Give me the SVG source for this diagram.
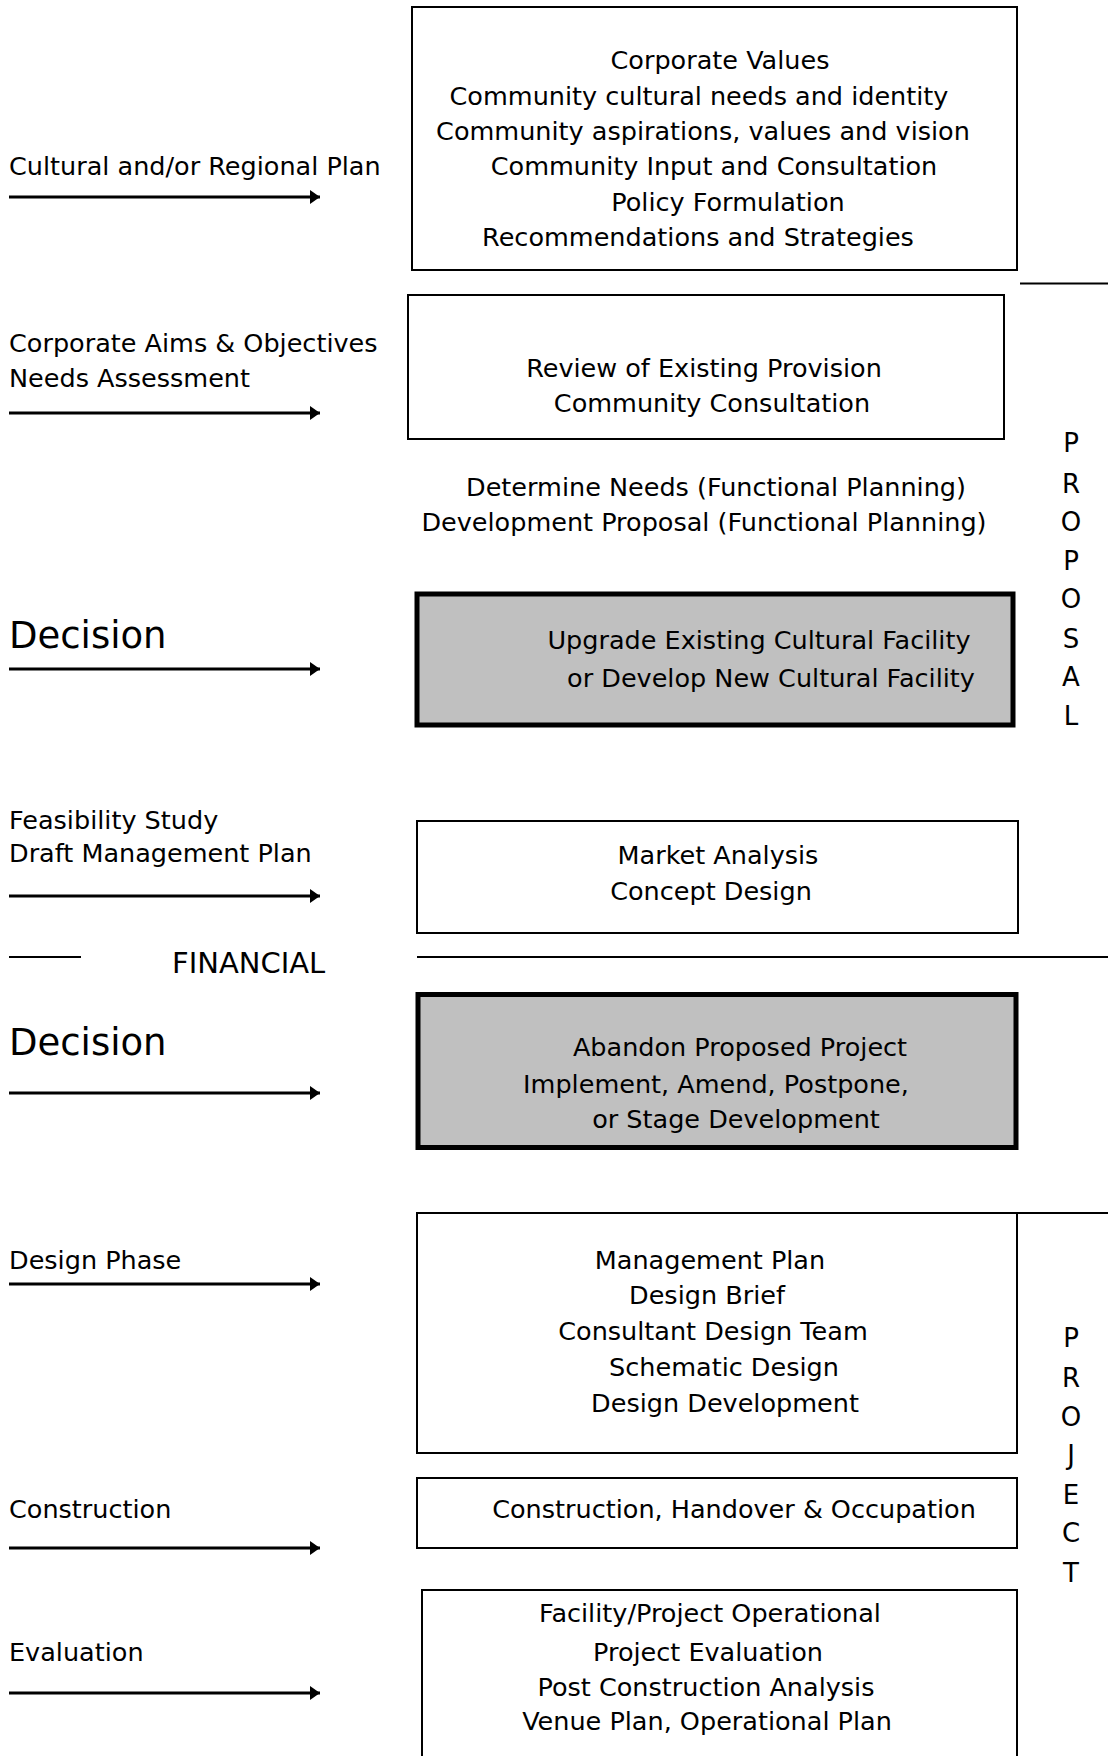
<svg xmlns="http://www.w3.org/2000/svg" width="1108" height="1756" viewBox="0 0 1108 1756">
<defs>
<marker id="ah" markerUnits="userSpaceOnUse" markerWidth="12" markerHeight="16" refX="10" refY="7" orient="auto">
<path d="M0,0 L10,7 L0,14 Z" fill="#000"/>
</marker>
</defs>
<style>
text{font-family:"DejaVu Sans","Liberation Sans",sans-serif;font-size:25.5px;fill:#000}
.c{text-anchor:middle}
.big{font-size:37px}
.fin{font-size:29px}
.side{font-size:26px}
.box{fill:#fff;stroke:#000;stroke-width:2}
.dec{fill:#c0c0c0;stroke:#000;stroke-width:5}
.ln{stroke:#000;stroke-width:2;fill:none}
.ar{stroke:#000;stroke-width:3;fill:none;marker-end:url(#ah)}
</style>
<rect width="1108" height="1756" fill="#fff"/>

<g id="connectors">
<line class="ar" x1="9" y1="197" x2="320" y2="197"/>
<line class="ar" x1="9" y1="413" x2="320" y2="413"/>
<line class="ar" x1="9" y1="669" x2="320" y2="669"/>
<line class="ar" x1="9" y1="896" x2="320" y2="896"/>
<line class="ar" x1="9" y1="1093" x2="320" y2="1093"/>
<line class="ar" x1="9" y1="1284" x2="320" y2="1284"/>
<line class="ar" x1="9" y1="1548" x2="320" y2="1548"/>
<line class="ar" x1="9" y1="1693" x2="320" y2="1693"/>
<line class="ln" x1="1020" y1="283.5" x2="1108" y2="283.5"/>
<line class="ln" x1="9" y1="957" x2="81" y2="957"/>
<line class="ln" x1="417" y1="957" x2="1108" y2="957"/>
<line class="ln" x1="1017" y1="1213" x2="1108" y2="1213"/>
</g>

<g id="labels">
<text x="9" y="175">Cultural and/or Regional Plan</text>
<text x="9" y="352">Corporate Aims &amp; Objectives</text>
<text x="9" y="387">Needs Assessment</text>
<text class="big" x="9" y="648">Decision</text>
<text x="9" y="829">Feasibility Study</text>
<text x="9" y="862">Draft Management Plan</text>
<text class="fin" x="172" y="973">FINANCIAL</text>
<text class="big" x="9" y="1055">Decision</text>
<text x="9" y="1269">Design Phase</text>
<text x="9" y="1518">Construction</text>
<text x="9" y="1661">Evaluation</text>
</g>

<g id="node-values">
<rect class="box" x="412" y="7" width="605" height="263"/>
<text class="c" x="720" y="69">Corporate Values</text>
<text class="c" x="699" y="105">Community cultural needs and identity</text>
<text class="c" x="703" y="140">Community aspirations, values and vision</text>
<text class="c" x="714" y="175">Community Input and Consultation</text>
<text class="c" x="728" y="211">Policy Formulation</text>
<text class="c" x="698" y="246">Recommendations and Strategies</text>
</g>

<g id="node-review">
<rect class="box" x="408" y="295" width="596" height="144"/>
<text class="c" x="704" y="377">Review of Existing Provision</text>
<text class="c" x="712" y="412">Community Consultation</text>
</g>

<g id="node-needs">
<text class="c" x="716" y="496">Determine Needs (Functional Planning)</text>
<text class="c" x="704" y="531">Development Proposal (Functional Planning)</text>
</g>

<g id="node-decision1">
<rect class="dec" x="417" y="594" width="596" height="131"/>
<text class="c" x="759" y="649">Upgrade Existing Cultural Facility</text>
<text class="c" x="771" y="687">or Develop New Cultural Facility</text>
</g>

<g id="node-market">
<rect class="box" x="417" y="821" width="601" height="112"/>
<text class="c" x="718" y="864">Market Analysis</text>
<text class="c" x="711" y="900">Concept Design</text>
</g>

<g id="node-decision2">
<rect class="dec" x="418" y="994.5" width="598" height="153"/>
<text class="c" x="740" y="1056">Abandon Proposed Project</text>
<text class="c" x="716" y="1093">Implement, Amend, Postpone,</text>
<text class="c" x="736" y="1128">or Stage Development</text>
</g>

<g id="node-design">
<rect class="box" x="417" y="1213" width="600" height="240"/>
<text class="c" x="710" y="1269">Management Plan</text>
<text class="c" x="707" y="1304">Design Brief</text>
<text class="c" x="713" y="1340">Consultant Design Team</text>
<text class="c" x="724" y="1376">Schematic Design</text>
<text class="c" x="725" y="1412">Design Development</text>
</g>

<g id="node-construction">
<rect class="box" x="417" y="1478" width="600" height="70"/>
<text class="c" x="734" y="1518">Construction, Handover &amp; Occupation</text>
</g>

<g id="node-evaluation">
<rect class="box" x="422" y="1590" width="595" height="200"/>
<text class="c" x="710" y="1622">Facility/Project Operational</text>
<text class="c" x="708" y="1661">Project Evaluation</text>
<text class="c" x="706" y="1696">Post Construction Analysis</text>
<text class="c" x="707" y="1730">Venue Plan, Operational Plan</text>
</g>

<g id="side-proposal">
<text class="c side" x="1071" y="452">P</text>
<text class="c side" x="1071" y="493">R</text>
<text class="c side" x="1071" y="531">O</text>
<text class="c side" x="1071" y="570">P</text>
<text class="c side" x="1071" y="608">O</text>
<text class="c side" x="1071" y="648">S</text>
<text class="c side" x="1071" y="686">A</text>
<text class="c side" x="1071" y="725">L</text>
</g>

<g id="side-project">
<text class="c side" x="1071" y="1347">P</text>
<text class="c side" x="1071" y="1387">R</text>
<text class="c side" x="1071" y="1426">O</text>
<text class="c side" x="1071" y="1464">J</text>
<text class="c side" x="1071" y="1504">E</text>
<text class="c side" x="1071" y="1542">C</text>
<text class="c side" x="1071" y="1582">T</text>
</g>
</svg>
